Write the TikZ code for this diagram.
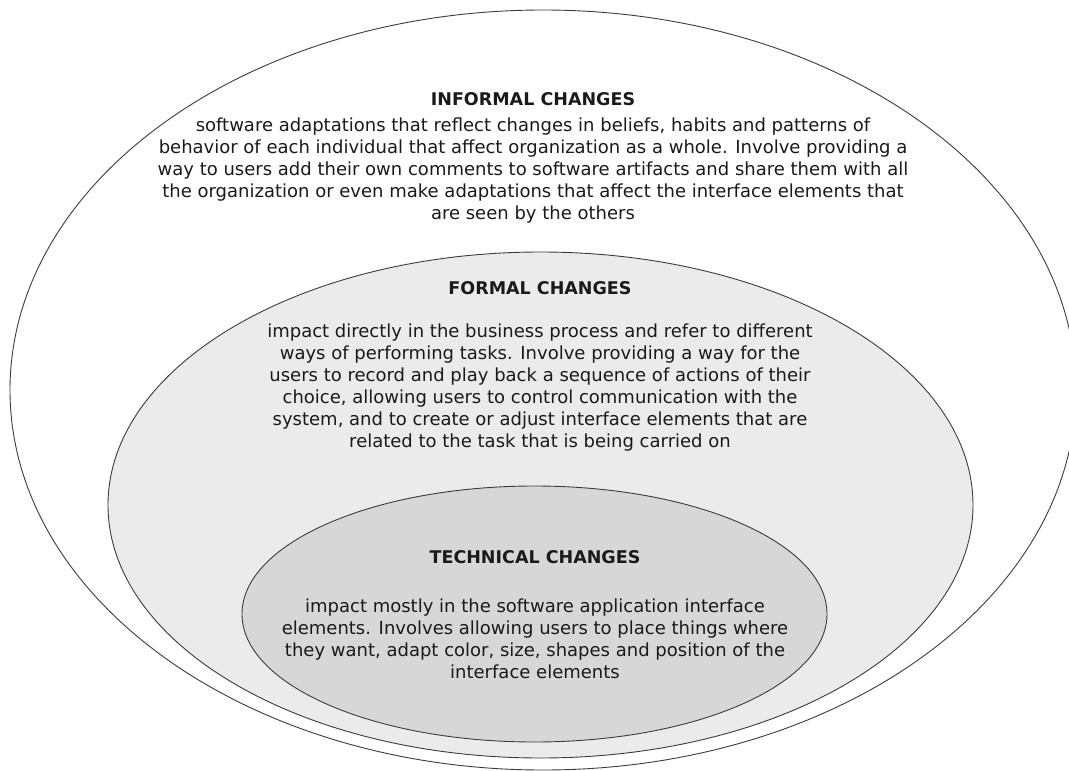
\documentclass[tikz,border=0pt]{standalone}
\usepackage{fontspec}
\setmainfont{DejaVu Sans}
\usetikzlibrary{shapes.geometric}
\definecolor{edge}{HTML}{3C3C3C}
\definecolor{formalfill}{HTML}{EBEBEB}
\definecolor{techfill}{HTML}{D7D7D7}
\definecolor{ink}{HTML}{1A1A1A}
\tikzset{
  zone/.style={ellipse, draw=edge, line width=0.9pt, inner sep=0pt},
  heading/.style={font=\fontsize{17.5}{22}\selectfont\bfseries, text=ink, inner sep=0pt, anchor=base},
  % multi-line blocks are placed by the baseline of their last line
  body/.style={font=\fontsize{18}{22}\selectfont, text=ink, align=center, inner sep=0pt, anchor=base},
}
\begin{document}
\begin{tikzpicture}[x=1pt, y=-1pt]
  \useasboundingbox (0,0) rectangle (1069,771);
  \fill[white] (0,0) rectangle (1069,771);

  % nested ellipses
  \node[zone, fill=white, minimum width=1066pt, minimum height=760pt] (informal) at (543,390) {};
  \node[zone, fill=formalfill, minimum width=865pt, minimum height=506pt] (formal) at (540.5,505) {};
  \node[zone, fill=techfill, minimum width=585pt, minimum height=256pt] (technical) at (534.5,614) {};

  % informal changes
  \node[heading] (t1) at (533,105) {INFORMAL CHANGES};
  \node[body] (b1) at (533,219) {software adaptations that reflect changes in beliefs, habits and patterns of\\
behavior of each individual that affect organization as a whole. Involve providing a\\
way to users add their own comments to software artifacts and share them with all\\
the organization or even make adaptations that affect the interface elements that\\
are seen by the others};

  % formal changes
  \node[heading] (t2) at (540,294) {FORMAL CHANGES};
  \node[body] (b2) at (540,447) {impact directly in the business process and refer to different\\
ways of performing tasks. Involve providing a way for the\\
users to record and play back a sequence of actions of their\\
choice, allowing users to control communication with the\\
system, and to create or adjust interface elements that are\\
related to the task that is being carried on};

  % technical changes
  \node[heading] (t3) at (535,563) {TECHNICAL CHANGES};
  \node[body] (b3) at (535,678) {impact mostly in the software application interface\\
elements. Involves allowing users to place things where\\
they want, adapt color, size, shapes and position of the\\
interface elements};
\end{tikzpicture}
\end{document}
